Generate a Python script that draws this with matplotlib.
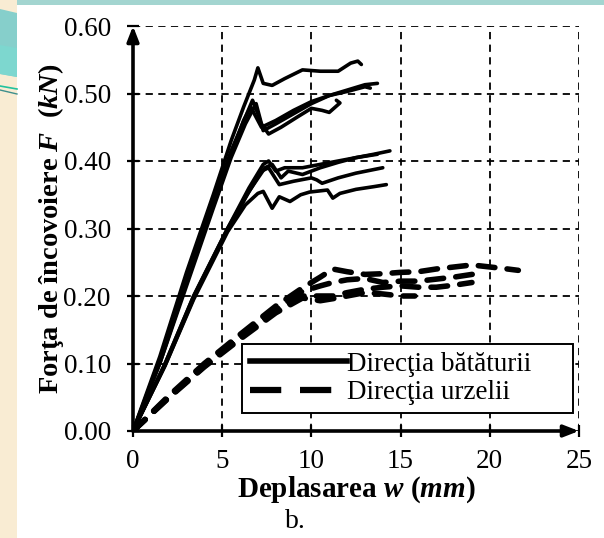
import matplotlib
matplotlib.use("Agg")
import matplotlib.pyplot as plt
from matplotlib.lines import Line2D
from matplotlib.patches import Rectangle, Polygon

W, H = 604, 538
SERIF = "Liberation Serif"

# ── data: bătătură (solid) ────────────────────────────────────────────────
b1_x = [0, 1.5, 3, 4.5, 5.5, 6.2, 6.8, 7.0, 7.3, 7.8, 8.5, 9.5, 10.5, 11.5, 12.2, 12.6, 12.8]
b1_y = [0, 0.11, 0.235, 0.35, 0.43, 0.48, 0.52, 0.538, 0.515, 0.512, 0.522, 0.535, 0.533, 0.533, 0.545, 0.548, 0.543]
b2_x = [0, 1.5, 3, 4.5, 5.5, 6.3, 6.7, 7.0, 7.3, 8, 9, 10, 11, 12, 13, 13.7]
b2_y = [0, 0.105, 0.225, 0.34, 0.415, 0.465, 0.49, 0.47, 0.445, 0.455, 0.47, 0.485, 0.497, 0.505, 0.513, 0.515]
b3_x = [0, 1.5, 3, 4.5, 5.5, 6.2, 6.6, 6.9, 7.2, 8, 9, 10, 11, 12, 13, 13.3]
b3_y = [0, 0.1, 0.22, 0.335, 0.41, 0.46, 0.48, 0.465, 0.45, 0.46, 0.475, 0.488, 0.497, 0.503, 0.51, 0.508]
b4_x = [0, 1.5, 3, 4.5, 5.5, 6.3, 6.9, 7.2, 7.6, 8.3, 9.2, 10.0, 10.6, 11.0, 11.6, 11.4]
b4_y = [0, 0.1, 0.215, 0.33, 0.405, 0.455, 0.485, 0.455, 0.44, 0.45, 0.465, 0.478, 0.475, 0.472, 0.486, 0.49]
l1_x = [0, 1.8, 3.4, 5.3, 6.5, 7.3, 7.6, 8.0, 8.5, 9.5, 10.5, 11.5, 12.5, 13.5, 14.4]
l1_y = [0, 0.1, 0.2, 0.3, 0.36, 0.395, 0.40, 0.385, 0.39, 0.39, 0.395, 0.4, 0.405, 0.41, 0.415]
l2_x = [0, 1.8, 3.4, 5.3, 6.5, 7.4, 7.8, 8.3, 8.7, 9.5, 10.5, 11.5, 12.5, 13.7]
l2_y = [0, 0.1, 0.2, 0.3, 0.355, 0.39, 0.395, 0.375, 0.385, 0.38, 0.39, 0.398, 0.405, 0.41]
l3_x = [0, 1.8, 3.4, 5.3, 6.4, 7.2, 7.6, 8.2, 9.0, 10.0, 10.3, 10.6, 11.5, 12.5, 14.0]
l3_y = [0, 0.097, 0.197, 0.297, 0.35, 0.385, 0.39, 0.365, 0.37, 0.375, 0.372, 0.367, 0.375, 0.382, 0.39]
l4_x = [0, 1.8, 3.4, 5.3, 6.3, 7.0, 7.3, 7.8, 8.2, 8.8, 9.4, 9.9, 10.9, 11.2, 11.6, 12.5, 13.5, 14.2]
l4_y = [0, 0.097, 0.195, 0.295, 0.335, 0.352, 0.355, 0.33, 0.347, 0.34, 0.35, 0.354, 0.357, 0.345, 0.352, 0.358, 0.362, 0.365]

# ── data: urzeală (dashed) ────────────────────────────────────────────────
u1_x = [0, 2, 4, 6, 8, 9.5, 10.5, 11.2, 12, 13, 14, 15, 16, 17, 18, 19, 20, 21, 21.6]
u1_y = [0, 0.052, 0.1, 0.143, 0.185, 0.212, 0.228, 0.24, 0.236, 0.232, 0.233, 0.235, 0.236, 0.24, 0.243, 0.246, 0.243, 0.24, 0.238]
u2_x = [0, 2, 4, 6, 8, 9.5, 10.5, 11.2, 12, 13, 14, 15, 16, 17, 18, 19, 19.6]
u2_y = [0, 0.05, 0.098, 0.14, 0.18, 0.207, 0.215, 0.22, 0.224, 0.226, 0.22, 0.222, 0.222, 0.225, 0.228, 0.232, 0.232]
u3_x = [0, 2, 4, 6, 8, 9.5, 10.5, 11.2, 12, 13, 14, 15, 16, 17, 18, 19]
u3_y = [0, 0.05, 0.096, 0.138, 0.177, 0.2, 0.2, 0.2, 0.205, 0.21, 0.213, 0.215, 0.213, 0.213, 0.216, 0.22]
u4_x = [0, 2, 4, 6, 8, 9.5, 10.5, 11.2, 12, 13, 14, 15, 15.8]
u4_y = [0, 0.049, 0.095, 0.136, 0.175, 0.197, 0.193, 0.196, 0.2, 0.205, 0.203, 0.2, 0.2]

x_ticks = [0, 5, 10, 15, 20, 25]
y_ticks = [0.0, 0.1, 0.2, 0.3, 0.4, 0.5, 0.6]
y_ticklabels = ["0.00", "0.10", "0.20", "0.30", "0.40", "0.50", "0.60"]
legend_labels = ["Direcţia bătăturii", "Direcţia urzelii"]

solid_curves = [(b1_x, b1_y), (b2_x, b2_y), (b3_x, b3_y), (b4_x, b4_y),
                (l1_x, l1_y), (l2_x, l2_y), (l3_x, l3_y), (l4_x, l4_y)]
dashed_curves = [(u1_x, u1_y), (u2_x, u2_y), (u3_x, u3_y), (u4_x, u4_y)]


def px(x, y):
    # pixel (top-left origin) -> figure fraction
    return (x / W, 1 - y / H)


rc = {
    "font.family": [SERIF, "DejaVu Serif"],
    "mathtext.fontset": "custom",
    "mathtext.rm": SERIF,
    "mathtext.it": SERIF + ":italic",
    "mathtext.bf": SERIF + ":bold",
    "mathtext.bfit": SERIF + ":bold:italic",
}
with plt.rc_context(rc):
    fig = plt.figure(figsize=(W / 100, H / 100), dpi=100)
    fig.patch.set_facecolor("#F9ECD3")

    # slide background: white panel, teal top strip, left decorations
    fig.patches.append(Rectangle(px(17, 538), (W - 17) / W, 533 / H,
                                 transform=fig.transFigure, fc="white", ec="none", zorder=-2))
    fig.patches.append(Rectangle(px(17, 5), (W - 17) / W, 5 / H,
                                 transform=fig.transFigure, fc="#A3D5D0", ec="none", zorder=-2))
    fig.patches.append(Polygon([px(0, 9), px(17, 13), px(17, 77), px(0, 74)],
                               closed=True, transform=fig.transFigure,
                               fc="#86CFCB", ec="none", zorder=-2))
    fig.patches.append(Polygon([px(0, 45), px(17, 48), px(17, 77), px(0, 74)],
                               closed=True, transform=fig.transFigure,
                               fc="#7DD7CF", ec="none", zorder=-2))
    fig.lines.append(Line2D([0, 17 / W], [1 - 86 / H, 1 - 89 / H], transform=fig.transFigure,
                            color="#22C29E", lw=1.2, zorder=-1))
    fig.lines.append(Line2D([0, 17 / W], [1 - 90 / H, 1 - 94 / H], transform=fig.transFigure,
                            color="#3E8F8C", lw=1.0, zorder=-1))

    ax = fig.add_axes([133 / W, 1 - 431 / H, 446 / W, 405 / H])
    ax.set_zorder(2)
    ax.set_facecolor("white")

    for cx, cy in solid_curves:
        ax.plot(cx, cy, color="black", lw=2.6, solid_joinstyle="round",
                solid_capstyle="round", zorder=3)
    for cx, cy in dashed_curves:
        ax.plot(cx, cy, color="black", lw=4.0, dashes=(3.0, 2.2),
                dash_capstyle="round", zorder=3)

    ax.set_xlim(0, 25)
    ax.set_ylim(0, 0.6)
    ax.set_xticks(x_ticks)
    ax.set_yticks(y_ticks)
    ax.set_yticklabels(y_ticklabels)
    ax.grid(True, color="black", ls=(0, (4, 3)), lw=1.3, zorder=1)
    ax.set_axisbelow(True)
    for s in ax.spines.values():
        s.set_visible(False)
    ax.tick_params(direction="inout", length=8, width=1.6, labelsize=19.5,
                   colors="black")
    ax.tick_params(axis="y", pad=12)
    ax.tick_params(axis="x", pad=9)

    # axes with arrow heads
    arrow = dict(arrowstyle="-|>,head_length=0.9,head_width=0.35", lw=2.6,
                 color="black", shrinkA=0, shrinkB=0)
    ax.annotate("", xy=(0, 1), xytext=(0, 0), xycoords="axes fraction",
                arrowprops=arrow, annotation_clip=False, zorder=5)
    ax.annotate("", xy=(1, 0), xytext=(0, 0), xycoords="axes fraction",
                arrowprops=arrow, annotation_clip=False, zorder=5)

    ax.set_xlabel(r"Deplasarea $\mathbfit{w}$ ($\mathbfit{mm}$)", fontsize=21,
                  fontweight="bold", labelpad=0)
    ax.set_ylabel(r"Forţa de încovoiere $\mathbfit{F}$  ($\mathbfit{kN}$)", fontsize=20.5,
                  fontweight="bold", labelpad=-2)

    handles = [Line2D([], [], color="black", lw=4.0),
               Line2D([], [], color="black", lw=4.5, dashes=(5, 3))]
    leg = ax.legend(handles, legend_labels, loc="lower left",
                    bbox_to_anchor=(0.244, 0.044, 0.743, 0.176), mode="expand",
                    borderaxespad=0, fontsize=19.5, handlelength=3.6,
                    handletextpad=0.0, labelspacing=0.12, borderpad=0.3,
                    fancybox=False, framealpha=1, edgecolor="black")
    leg.get_frame().set_linewidth(1.4)
    leg.set_zorder(6)

    fig.text(295 / W, 1 - 522 / H, "b.", fontsize=20, ha="center", va="center")

    fig.savefig("out.png", dpi=100, facecolor=fig.get_facecolor())
